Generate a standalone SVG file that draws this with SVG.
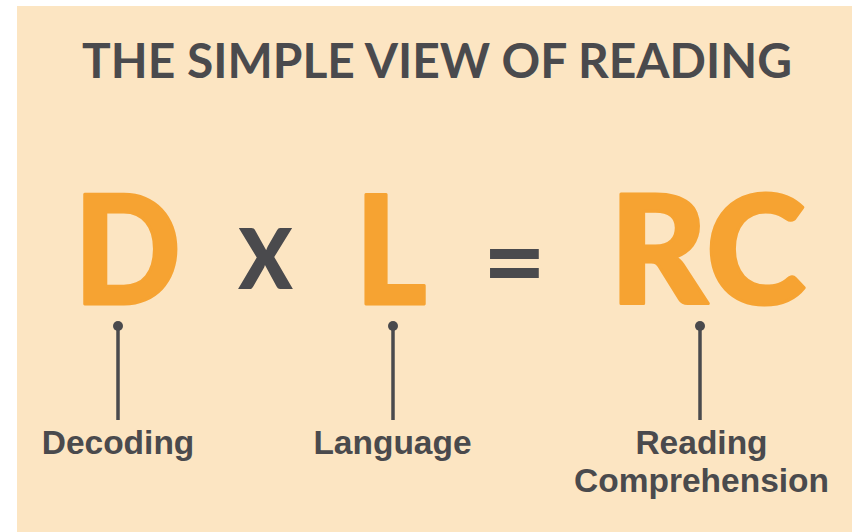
<svg xmlns="http://www.w3.org/2000/svg" width="852" height="532" viewBox="0 0 852 532">
  <style>
    .big { font-family: Lato, "Noto Sans", sans-serif; font-weight: 900; font-size: 151px; fill: #F6A332; stroke: #F6A332; stroke-width: 3; stroke-linejoin: round; text-anchor: middle; }
    .op { font-family: Lato, "Noto Sans", sans-serif; font-weight: 700; fill: #4A4A4D; text-anchor: middle; }
    .title { font-family: Lato, "Noto Sans", sans-serif; font-weight: 700; font-size: 47px; fill: #4A4A4D; text-anchor: middle; }
    .label { font-family: "Liberation Sans", Arial, sans-serif; font-weight: 700; font-size: 33.5px; fill: #4A4A4D; text-anchor: middle; }
    .conn line { stroke: #4A4A4D; stroke-width: 3.5; }
    .conn circle { fill: #4A4A4D; }
  </style>
  <rect x="0" y="0" width="852" height="532" fill="#FFFFFF"/>
  <rect x="17" y="6" width="835" height="526" fill="#FCE5C2"/>

  <g id="title">
    <text class="title" x="437" y="78" textLength="710" lengthAdjust="spacingAndGlyphs">THE SIMPLE VIEW OF READING</text>
  </g>

  <g id="node-D">
    <text class="big" x="0" y="304" transform="translate(127.5,0) scale(0.93,1)">D</text>
    <text class="label" x="118" y="454">Decoding</text>
  </g>

  <g id="op-times">
    <text class="op" x="0" y="289" font-size="118" transform="translate(265.5,0) scale(0.9,1)">x</text>
  </g>

  <g id="node-L">
    <text class="big" x="0" y="304" transform="translate(391,0) scale(0.9,1)">L</text>
    <text class="label" x="392.5" y="454">Language</text>
  </g>

  <g id="op-equals">
    <text class="op" x="514.5" y="300" font-size="110">=</text>
  </g>

  <g id="node-RC">
    <text class="big" x="707.5" y="304">RC</text>
    <text class="label" x="701.5" y="454">Reading</text>
    <text class="label" x="701.5" y="492">Comprehension</text>
  </g>

  <g id="connectors" class="conn">
    <circle cx="118" cy="326" r="5"/>
    <line x1="118" y1="326" x2="118" y2="420"/>
    <circle cx="393" cy="326" r="5"/>
    <line x1="393" y1="326" x2="393" y2="420"/>
    <circle cx="700" cy="326" r="5"/>
    <line x1="700" y1="326" x2="700" y2="420"/>
  </g>
</svg>
